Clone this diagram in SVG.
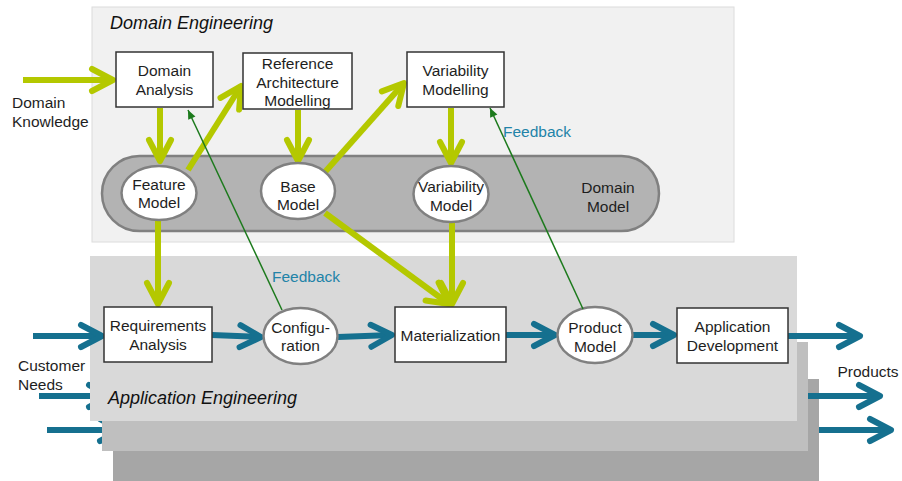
<svg xmlns="http://www.w3.org/2000/svg" width="902" height="481" viewBox="0 0 902 481">
  <defs>
    <style>
      text { font-family: "Liberation Sans", Arial, sans-serif; font-size: 15.5px; fill: #1e1e1e; }
      .c { text-anchor: middle; }
      .title { font-size: 18px; font-style: italic; fill: #111; }
      .fb { fill: #2283a8; }
      .box { fill: #fff; stroke: #333; stroke-width: 1.5; }
      .ell { fill: #fff; stroke: #808080; stroke-width: 2.5; }
      .lime { fill: none; stroke: #b4c800; stroke-width: 6; marker-end: url(#chevLime); }
      .teal { fill: none; stroke: #15708f; stroke-width: 6; marker-end: url(#chevTeal); }
      .feed { fill: none; stroke: #1c7a1c; stroke-width: 1.5; marker-end: url(#tri); }
    </style>
    <marker id="chevLime" markerUnits="userSpaceOnUse" orient="auto" viewBox="-28 -16 34 32" markerWidth="34" markerHeight="32" refX="0" refY="0">
      <path d="M-21,-11 L0,0 L-21,11" fill="none" stroke="#b4c800" stroke-width="6" stroke-linecap="round" stroke-linejoin="round"/>
    </marker>
    <marker id="chevTeal" markerUnits="userSpaceOnUse" orient="auto" viewBox="-28 -16 34 32" markerWidth="34" markerHeight="32" refX="0" refY="0">
      <path d="M-21,-11 L0,0 L-21,11" fill="none" stroke="#15708f" stroke-width="6" stroke-linecap="round" stroke-linejoin="round"/>
    </marker>
    <marker id="tri" markerUnits="userSpaceOnUse" orient="auto" viewBox="-10 -5 12 10" markerWidth="12" markerHeight="10" refX="0" refY="0">
      <path d="M-9,-4 L0,0 L-9,4 Z" fill="#1c7a1c"/>
    </marker>
  </defs>

  <!-- Domain engineering area -->
  <g id="domain-engineering">
    <rect x="92" y="7" width="642" height="235" fill="#f1f1f1" stroke="#dcdcdc" stroke-width="1"/>
    <text class="title" x="110" y="29">Domain Engineering</text>
  </g>

  <!-- Application engineering stack: back panel, hidden arrows, middle and front panels -->
  <g id="app-panel-back">
    <rect x="113" y="379" width="706" height="102" fill="#a6a6a6"/>
  </g>
  <g id="back-connectors">
    <path class="teal" d="M39,396 L110,396"/>
    <path class="teal" d="M47,430 L121,430"/>
    <path class="teal" d="M800,396 L880,396"/>
    <path class="teal" d="M819,430 L891,430"/>
  </g>
  <g id="app-panel-middle">
    <rect x="102" y="342" width="706" height="109" fill="#bfbfbf"/>
  </g>
  <g id="application-engineering">
    <rect x="90" y="256" width="707" height="165" fill="#d9d9d9"/>
    <text class="title" x="108" y="404">Application Engineering</text>
  </g>

  <!-- Domain model container -->
  <g id="domain-model">
    <rect x="102" y="156" width="557" height="75" rx="37.5" fill="#b3b3b3" stroke="#808080" stroke-width="2.5"/>
    <text class="c" x="608" y="193">Domain</text>
    <text class="c" x="608" y="212">Model</text>
  </g>

  <!-- Connectors -->
  <g id="connectors">
    <path class="lime" d="M23,80 L113,80"/>
    <path class="lime" d="M160,108 L160,161"/>
    <path class="lime" d="M188,170 L241,86"/>
    <path class="lime" d="M298,110 L298,161"/>
    <path class="lime" d="M325,172 L404,83"/>
    <path class="lime" d="M451,108 L451,163"/>
    <path class="lime" d="M158,221 L158,304"/>
    <path class="lime" d="M325,213 L449,304"/>
    <path class="lime" d="M452,222 L452,304"/>

    <path class="teal" d="M33,336 L102,336"/>
    <path class="teal" d="M212,335 L261,337"/>
    <path class="teal" d="M338,337 L392,335"/>
    <path class="teal" d="M506,335 L555,335"/>
    <path class="teal" d="M633,335 L674,335"/>
    <path class="teal" d="M788,336 L860,336"/>
  </g>

  <!-- Nodes -->
  <g id="domain-analysis">
    <rect class="box" x="116" y="52" width="97" height="55"/>
    <text class="c" x="164.5" y="76">Domain</text>
    <text class="c" x="164.5" y="95">Analysis</text>
  </g>
  <g id="reference-architecture">
    <rect class="box" x="243" y="53" width="109" height="56"/>
    <text class="c" x="297.5" y="69">Reference</text>
    <text class="c" x="297.5" y="88">Architecture</text>
    <text class="c" x="297.5" y="106">Modelling</text>
  </g>
  <g id="variability-modelling">
    <rect class="box" x="407" y="52" width="97" height="55"/>
    <text class="c" x="455.5" y="76">Variability</text>
    <text class="c" x="455.5" y="95">Modelling</text>
  </g>
  <g id="feature-model">
    <ellipse class="ell" cx="159" cy="193" rx="37.5" ry="27"/>
    <text class="c" x="159" y="190">Feature</text>
    <text class="c" x="159" y="208">Model</text>
  </g>
  <g id="base-model">
    <ellipse class="ell" cx="298" cy="191" rx="37" ry="28"/>
    <text class="c" x="298" y="192">Base</text>
    <text class="c" x="298" y="210">Model</text>
  </g>
  <g id="variability-model">
    <ellipse class="ell" cx="451" cy="194" rx="37.5" ry="28"/>
    <text class="c" x="451" y="192">Variability</text>
    <text class="c" x="451" y="211">Model</text>
  </g>
  <g id="requirements-analysis">
    <rect class="box" x="104" y="307" width="108" height="55"/>
    <text class="c" x="158" y="331">Requirements</text>
    <text class="c" x="158" y="350">Analysis</text>
  </g>
  <g id="configuration">
    <ellipse class="ell" cx="300.5" cy="336" rx="37" ry="28"/>
    <text class="c" x="300.5" y="332.5">Configu-</text>
    <text class="c" x="300.5" y="351">ration</text>
  </g>
  <g id="materialization">
    <rect class="box" x="395" y="307" width="111" height="55"/>
    <text class="c" x="450.5" y="341">Materialization</text>
  </g>
  <g id="product-model">
    <ellipse class="ell" cx="595" cy="335" rx="37.5" ry="28"/>
    <text class="c" x="595" y="333">Product</text>
    <text class="c" x="595" y="352">Model</text>
  </g>
  <g id="application-development">
    <rect class="box" x="677" y="308" width="111" height="55"/>
    <text class="c" x="732.5" y="332">Application</text>
    <text class="c" x="732.5" y="351">Development</text>
  </g>

  <!-- Feedback connectors -->
  <g id="feedback-connectors">
    <path class="feed" d="M282,310 L188,110"/>
    <path class="feed" d="M583,309 L490,108"/>
    <text class="fb" x="272" y="282">Feedback</text>
    <text class="fb" x="503" y="136.5">Feedback</text>
  </g>

  <!-- Input / output labels -->
  <g id="labels">
    <text x="12" y="108">Domain</text>
    <text x="12" y="126.5">Knowledge</text>
    <text x="18" y="371">Customer</text>
    <text x="18" y="389.5">Needs</text>
    <text class="c" x="868" y="377">Products</text>
  </g>
</svg>
